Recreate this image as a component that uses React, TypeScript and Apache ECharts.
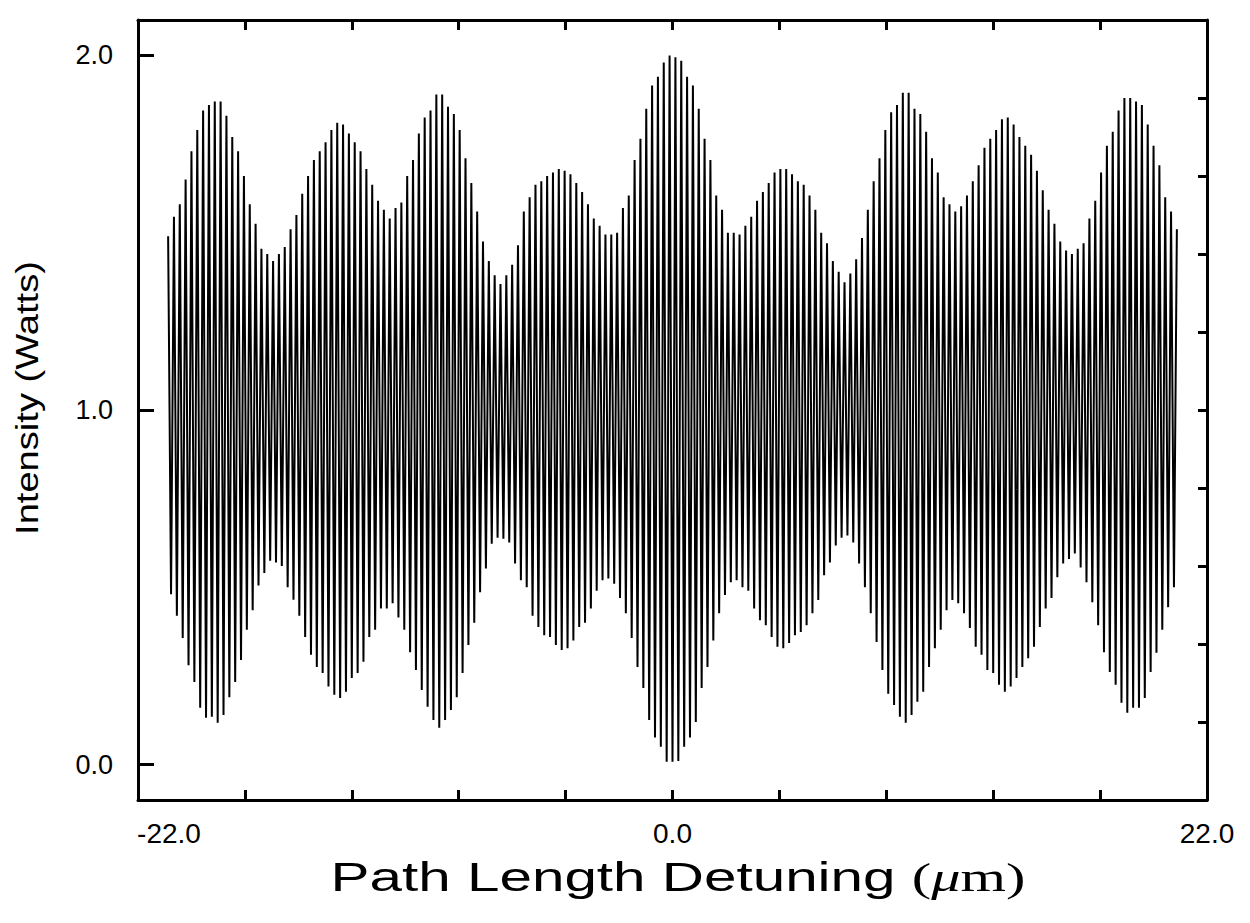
import React, { useEffect, useRef } from "react";
import * as echarts from "echarts";

// Upper envelope: height of each fringe maximum (W), read left to right
const upperPeaks = [
  1.49, 1.545, 1.58, 1.65, 1.73, 1.79, 1.845, 1.86, 1.87, 1.87,
  1.83, 1.77, 1.73, 1.66, 1.58, 1.525, 1.455, 1.44, 1.42, 1.44,
  1.46, 1.51, 1.55, 1.61, 1.66, 1.705, 1.73, 1.755, 1.79, 1.81,
  1.805, 1.78, 1.755, 1.73, 1.68, 1.635, 1.59, 1.565, 1.54, 1.57,
  1.585, 1.66, 1.705, 1.78, 1.825, 1.845, 1.89, 1.89, 1.855, 1.835,
  1.79, 1.71, 1.64, 1.56, 1.475, 1.42, 1.38, 1.355, 1.38, 1.41,
  1.465, 1.56, 1.6, 1.635, 1.645, 1.66, 1.67, 1.68, 1.675, 1.665,
  1.64, 1.615, 1.58, 1.54, 1.52, 1.495, 1.495, 1.5, 1.57, 1.605,
  1.705, 1.765, 1.85, 1.915, 1.94, 1.98, 2.0, 1.995, 1.985, 1.94,
  1.915, 1.85, 1.765, 1.705, 1.605, 1.565, 1.5, 1.5, 1.495, 1.52,
  1.545, 1.59, 1.615, 1.64, 1.67, 1.68, 1.68, 1.665, 1.645, 1.635,
  1.605, 1.565, 1.5, 1.47, 1.42, 1.39, 1.36, 1.385, 1.425, 1.485,
  1.565, 1.645, 1.71, 1.79, 1.84, 1.86, 1.895, 1.895, 1.85, 1.835,
  1.785, 1.71, 1.67, 1.6, 1.58, 1.56, 1.575, 1.605, 1.645, 1.69,
  1.74, 1.765, 1.79, 1.82, 1.825, 1.805, 1.77, 1.745, 1.72, 1.675,
  1.62, 1.565, 1.525, 1.475, 1.45, 1.44, 1.455, 1.47, 1.54, 1.59,
  1.67, 1.745, 1.785, 1.845, 1.88, 1.88, 1.87, 1.86, 1.805, 1.745,
  1.69, 1.6, 1.56, 1.51,
];

// Lower envelope: depth of each fringe minimum (W), between successive maxima
const lowerTroughs = [
  0.48, 0.42, 0.357, 0.28, 0.233, 0.16, 0.132, 0.135, 0.118, 0.14,
  0.19, 0.233, 0.295, 0.38, 0.435, 0.505, 0.54, 0.575, 0.57, 0.56,
  0.5, 0.465, 0.42, 0.36, 0.31, 0.275, 0.258, 0.22, 0.197, 0.188,
  0.205, 0.244, 0.258, 0.29, 0.36, 0.38, 0.44, 0.44, 0.455, 0.415,
  0.38, 0.317, 0.267, 0.21, 0.163, 0.126, 0.104, 0.126, 0.154, 0.19,
  0.258, 0.337, 0.4, 0.486, 0.553, 0.623, 0.64, 0.637, 0.626, 0.567,
  0.52, 0.5, 0.42, 0.388, 0.365, 0.36, 0.337, 0.323, 0.328, 0.35,
  0.388, 0.4, 0.44, 0.49, 0.52, 0.525, 0.51, 0.47, 0.427, 0.357,
  0.275, 0.216, 0.126, 0.076, 0.05, 0.008, 0.008, 0.01, 0.05, 0.076,
  0.12, 0.216, 0.275, 0.35, 0.427, 0.478, 0.514, 0.52, 0.5, 0.49,
  0.44, 0.407, 0.393, 0.36, 0.332, 0.328, 0.343, 0.365, 0.374, 0.393,
  0.427, 0.464, 0.534, 0.57, 0.618, 0.64, 0.646, 0.626, 0.567, 0.5,
  0.427, 0.346, 0.267, 0.2, 0.168, 0.135, 0.118, 0.14, 0.177, 0.205,
  0.275, 0.328, 0.38, 0.435, 0.464, 0.455, 0.427, 0.385, 0.332, 0.31,
  0.267, 0.258, 0.225, 0.205, 0.22, 0.244, 0.275, 0.3, 0.332, 0.388,
  0.44, 0.47, 0.528, 0.567, 0.58, 0.595, 0.556, 0.514, 0.458, 0.393,
  0.317, 0.261, 0.225, 0.174, 0.146, 0.16, 0.16, 0.188, 0.261, 0.315,
  0.38, 0.444, 0.5,
];

// Fringe grid (µm): central fringe position and fringe period
const fringeCenter = 0;
const fringeSpacing = 0.24;

// Axes
const xMin = -22;
const xMax = 22;
const yMin = -0.1;
const yMax = 2.1;
const xTickValues = [-17.6, -13.2, -8.8, -4.4, 0, 4.4, 8.8, 13.2, 17.6];
const xLabelValues = [-22, 0, 22];
const yLabelValues = [0, 1, 2];
const yRightTickValues = [0.12, 0.34, 0.56, 0.78, 1.0, 1.22, 1.44, 1.66, 1.88];

const yTitle = "Intensity (Watts)";
const xTitleMain = "Path Length Detuning ";
const xTitleUnit = "μ";

const SANS = "'Liberation Sans', Arial, Helvetica, sans-serif";
const SERIF = "'Liberation Serif', 'DejaVu Serif', serif";

function buildSeries(): number[][] {
  const centerIdx = (upperPeaks.length - 1) / 2;
  const pts: number[][] = [];
  upperPeaks.forEach((v, i) => {
    pts.push([fringeCenter + (i - centerIdx) * fringeSpacing, v]);
    if (i < lowerTroughs.length) {
      pts.push([fringeCenter + (i + 0.5 - centerIdx) * fringeSpacing, lowerTroughs[i]]);
    }
  });
  return pts;
}

function fmt(v: number): string {
  const r = Math.round(v * 10) / 10;
  return (Math.abs(r) < 1e-9 ? 0 : r).toFixed(1);
}

export default function App() {
  const ref = useRef<HTMLDivElement>(null);

  useEffect(() => {
    if (!ref.current) return;
    const chart = echarts.init(ref.current, null, { renderer: "svg" });
    const axisLine = { show: true, onZero: false, lineStyle: { color: "#000", width: 3 } };
    const option: any = {
      animation: false,
      backgroundColor: "#fff",
      grid: { left: 138, right: 43, top: 20, bottom: 123, containLabel: false },
      xAxis: [
        {
          type: "value",
          position: "bottom",
          min: xMin,
          max: xMax,
          axisLine,
          splitLine: { show: false },
          axisTick: {
            show: true,
            inside: true,
            length: 10,
            customValues: xTickValues,
            lineStyle: { color: "#000", width: 3 },
          },
          axisLabel: {
            show: true,
            customValues: xLabelValues,
            margin: 19,
            color: "#000",
            fontSize: 28,
            fontFamily: SANS,
            formatter: (v: number) => (v <= xMin + 1e-6 ? "{l|" + fmt(v) + "}" : "{n|" + fmt(v) + "}"),
            rich: {
              l: { fontSize: 28, fontFamily: SANS, color: "#000", padding: [0, 0, 0, 62] },
              n: { fontSize: 28, fontFamily: SANS, color: "#000" },
            },
          },
        },
        {
          type: "value",
          position: "top",
          min: xMin,
          max: xMax,
          axisLine,
          splitLine: { show: false },
          axisTick: {
            show: true,
            inside: true,
            length: 10,
            customValues: xTickValues,
            lineStyle: { color: "#000", width: 3 },
          },
          axisLabel: { show: false },
        },
      ],
      yAxis: [
        {
          type: "value",
          position: "left",
          min: yMin,
          max: yMax,
          axisLine,
          splitLine: { show: false },
          axisTick: {
            show: true,
            inside: true,
            length: 16,
            customValues: yLabelValues,
            lineStyle: { color: "#000", width: 3 },
          },
          axisLabel: {
            show: true,
            customValues: yLabelValues,
            margin: 25,
            color: "#000",
            fontSize: 27,
            fontFamily: SANS,
            formatter: (v: number) => fmt(v),
          },
        },
        {
          type: "value",
          position: "right",
          min: yMin,
          max: yMax,
          axisLine,
          splitLine: { show: false },
          axisTick: {
            show: true,
            inside: true,
            length: 9,
            customValues: yRightTickValues,
            lineStyle: { color: "#000", width: 3 },
          },
          axisLabel: { show: false },
        },
      ],
      series: [
        {
          type: "line",
          xAxisIndex: 0,
          yAxisIndex: 0,
          data: buildSeries(),
          showSymbol: false,
          symbol: "none",
          silent: true,
          lineStyle: { color: "#000", width: 2 },
        },
      ],
      graphic: [
        {
          type: "text",
          x: 27,
          y: 398,
          rotation: Math.PI / 2,
          scaleX: 1.23,
          style: {
            text: yTitle,
            fontSize: 31,
            fontFamily: SANS,
            fill: "#000",
            textAlign: "center",
            textVerticalAlign: "middle",
          },
        },
        {
          type: "text",
          x: 678,
          y: 877,
          scaleX: 1.46,
          style: {
            text: "{a|" + xTitleMain + "}{p|(}{mu|" + xTitleUnit + "}{p|m)}",
            fill: "#000",
            textAlign: "center",
            textVerticalAlign: "middle",
            rich: {
              a: { fontSize: 40, fontFamily: SANS, fill: "#000" },
              p: { fontSize: 40, fontFamily: SERIF, fill: "#000" },
              mu: { fontSize: 40, fontFamily: SERIF, fontStyle: "italic", fill: "#000" },
            },
          },
        },
      ],
    };
    chart.setOption(option);
    return () => chart.dispose();
  }, []);

  return (
    <div
      ref={ref}
      style={{ position: "fixed", left: 0, top: 0, width: 1250, height: 923, background: "#fff" }}
    />
  );
}
